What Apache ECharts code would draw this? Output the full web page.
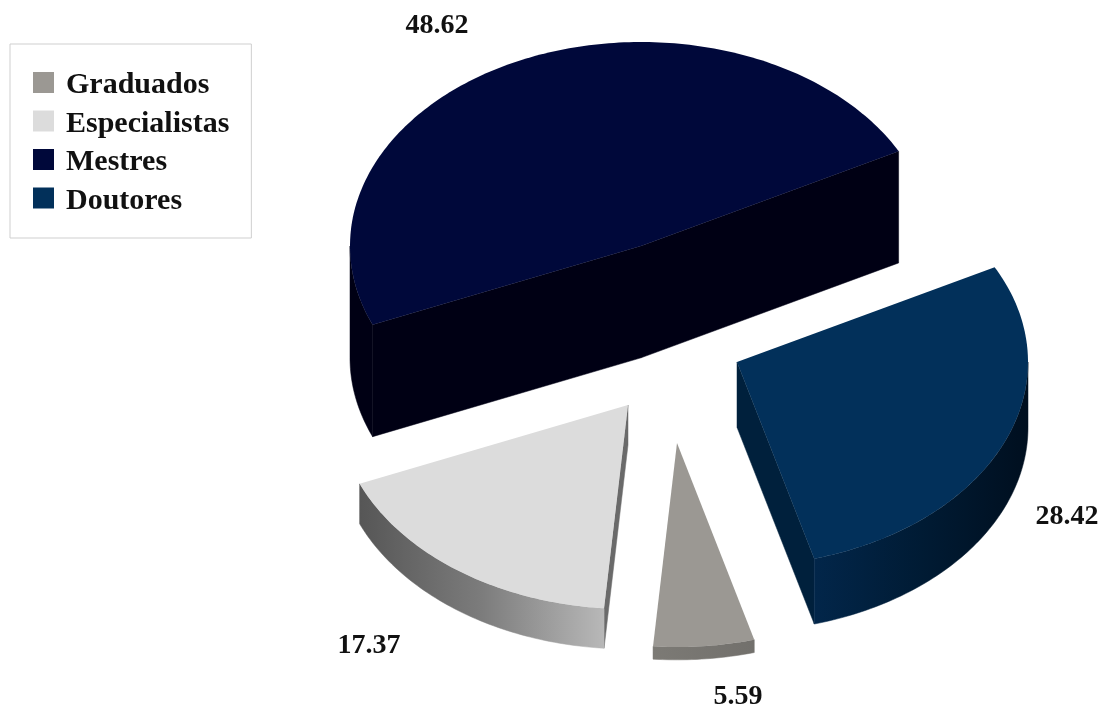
<!DOCTYPE html>
<html>
<head>
<meta charset="utf-8">
<style>html,body{margin:0;padding:0;background:#fff}#chart{width:1103px;height:708px}</style>
<script src="https://cdn.jsdelivr.net/npm/echarts@6/dist/echarts.min.js"></script>
</head>
<body>
<div id="chart"></div>
<script>
// Titulação do corpo docente (%), in clockwise drawing order
const categories = ['Graduados', 'Especialistas', 'Mestres', 'Doutores'];
const percentages = [5.59, 17.37, 48.62, 28.42];

// Face colours per category
const topColors = ['#9b9893', '#dcdcdc', '#00083a', '#02305a'];
const cutColors = ['#777570', '#6a6a6a', '#000014', '#00203c'];
const wallStops = [
  ['#7c7a75', '#72706c'],
  ['#565656', '#7c7c7c', '#b8b8b8'],
  ['#000014', '#000014'],
  ['#02264a', '#001b34', '#000f1f']
];

// Exploded slice apex and label anchor per category
const apexes = [[677, 443], [628, 405], [641, 246], [737, 362]];
const labelAnchors = [[738, 697], [369, 646], [437, 26], [1067, 517]];

// Projected pie: ellipse radii, first boundary angle, wall height per percent
const RX = 291, RY = 204, START_DEG = 285.4, DEPTH_PER_UNIT = 2.3;
const FONT = '"Liberation Serif", "Times New Roman", serif';

const total = percentages.reduce((a, b) => a + b, 0);

function rim(apex, deg, drop) {
  const r = deg * Math.PI / 180;
  return [apex[0] + RX * Math.cos(r), apex[1] - RY * Math.sin(r) + drop];
}

function arcPoints(apex, from, to, drop) {
  const pts = [];
  const n = Math.max(2, Math.ceil(Math.abs(to - from)));
  for (let i = 0; i <= n; i++) pts.push(rim(apex, from + (to - from) * i / n, drop));
  return pts;
}

// A thin stroke in the fill colour closes hairlines between neighbouring faces
function poly(points, fill, sealed) {
  return {
    type: 'polygon',
    shape: { points },
    style: sealed ? { fill, stroke: fill, lineWidth: 0.5 } : { fill, stroke: null }
  };
}

function makeRenderItem(index) {
  return function (params, api) {
    const value = api.value(0);
    const before = percentages.slice(0, index).reduce((a, b) => a + b, 0);
    // Angles run clockwise from the start boundary
    const a1 = START_DEG - before / total * 360;
    const a0 = a1 - value / total * 360;
    const apex = apexes[index];
    const h = value * DEPTH_PER_UNIT;
    const children = [];

    // Radial cut faces, only those turned toward the viewer
    [[a0, 1], [a1, -1]].forEach(function (edge) {
      const deg = edge[0];
      if (edge[1] * Math.cos(deg * Math.PI / 180) <= 0) return;
      const p = rim(apex, deg, 0);
      children.push(poly([apex, p, [p[0], p[1] + h], [apex[0], apex[1] + h]], cutColors[index], true));
    });

    // Outer wall, front half of the rim only
    const spans = [];
    for (const shift of [-360, 0, 360]) {
      const f = Math.max(a0, 180 + shift), t = Math.min(a1, 360 + shift);
      if (t > f) spans.push([f, t]);
    }
    spans.forEach(function (s) {
      const upper = arcPoints(apex, s[0], s[1], 0);
      const lower = arcPoints(apex, s[1], s[0], h);
      const stops = wallStops[index];
      const grad = new echarts.graphic.LinearGradient(0, 0, 1, 0,
        stops.map((c, i) => ({ offset: i / (stops.length - 1), color: c })));
      children.push(poly(upper.concat(lower), grad, true));
    });

    // Top face
    children.push(poly([apex].concat(arcPoints(apex, a0, a1, 0)), topColors[index], false));

    // Value label
    children.push({
      type: 'text',
      x: labelAnchors[index][0],
      y: labelAnchors[index][1],
      style: {
        text: value.toFixed(2),
        fill: '#111',
        font: 'bold 28px ' + FONT,
        align: 'center',
        verticalAlign: 'middle'
      }
    });
    return { type: 'group', children };
  };
}

const chart = echarts.init(document.getElementById('chart'), null, { renderer: 'canvas' });
chart.setOption({
  animation: false,
  backgroundColor: '#fff',
  tooltip: { show: false },
  legend: {
    orient: 'vertical',
    left: 10,
    top: 44,
    padding: [20.5, 22, 22, 23],
    itemWidth: 21,
    itemHeight: 21,
    itemGap: 2.5,
    icon: 'rect',
    backgroundColor: '#fff',
    borderColor: '#cfcfcf',
    borderWidth: 1,
    selectedMode: false,
    data: categories,
    formatter: name => '{entry|' + name + '}',
    textStyle: {
      rich: {
        entry: {
          fontFamily: FONT,
          fontWeight: 'bold',
          fontSize: 30,
          color: '#111',
          lineHeight: 24,
          padding: [6, 0, 0, 7]
        }
      }
    }
  },
  series: categories.map((name, i) => ({
    type: 'custom',
    name,
    coordinateSystem: 'none',
    silent: true,
    itemStyle: { color: topColors[i] },
    data: [[percentages[i]]],
    renderItem: makeRenderItem(i)
  }))
});
</script>
</body>
</html>
